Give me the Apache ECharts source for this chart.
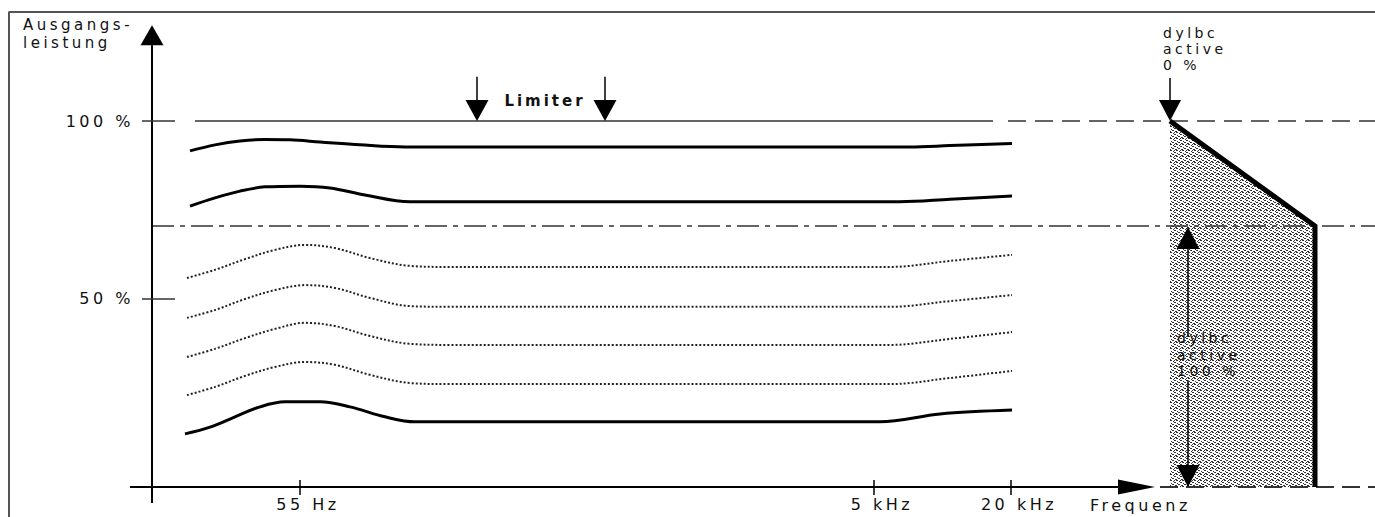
<!DOCTYPE html>
<html><head><meta charset="utf-8">
<script src="https://cdn.jsdelivr.net/npm/echarts@6/dist/echarts.min.js"></script>
<style>
html,body{margin:0;padding:0;background:#fff;}
#c{width:1375px;height:517px;}
#c text{letter-spacing:3.5px;}
#c text[style*="bold"]{letter-spacing:3px;}
</style></head><body><div id="c"></div>
<script>
// ---- axis ticks ----
const xTickValues = [148, 722, 859];
const xTickLabels = ['55 Hz', '5 kHz', '20 kHz'];
const yTickValues = [50, 100];
const yTickLabels = ['50 %', '100 %'];

// ---- levels (percent of output power) ----
const fullLevel = 100;
const dylbcLevel = 70.5;
const baseLevel = -2.81;

// ---- response curves [x, level %] ----
const curveTop    = [[38,91.6],[63,93.3],[88,94.4],[113,94.8],[138,94.7],[168,94.1],[208,93.3],[253,92.7],[758,92.7],[798,93.1],[860,93.7]];
const curveSecond = [[38,76.1],[63,78.4],[88,80.3],[113,81.5],[148,81.7],[178,81.2],[213,79.2],[258,77.3],[748,77.3],[798,78.0],[860,78.9]];
const curveDot1   = [[35,55.9],[63,58.2],[93,61.2],[123,63.8],[153,65.2],[183,64.3],[218,61.5],[258,59.3],[298,59.0],[738,59.0],[798,60.7],[860,62.4]];
const curveDot2   = [[35,44.7],[63,46.9],[93,50.0],[123,52.5],[153,53.9],[183,53.1],[218,50.3],[258,48.0],[298,47.8],[738,47.8],[798,49.4],[860,51.1]];
const curveDot3   = [[35,33.7],[63,36.0],[93,39.0],[123,41.6],[153,43.3],[183,42.4],[218,39.6],[258,37.4],[298,37.1],[738,37.1],[798,38.8],[860,40.7]];
const curveDot4   = [[35,23.0],[63,25.3],[93,28.4],[123,30.9],[153,32.3],[183,31.5],[218,28.7],[258,26.4],[298,26.1],[738,26.1],[798,27.8],[860,29.8]];
const curveBottom = [[33,12.1],[58,14.0],[83,16.9],[108,19.7],[133,21.1],[168,21.1],[198,19.7],[233,16.9],[263,15.5],[728,15.5],[788,17.7],[860,18.8]];

// ---- reference lines ----
const refLineSolid  = [[43, fullLevel], [841, fullLevel]];
const refLineDashed = [[856, fullLevel], [1223, fullLevel]];
const dylbcLine     = [[0, dylbcLevel], [1223, dylbcLevel]];
const baseDashed    = [[1008, baseLevel], [1223, baseLevel]];
const frameLine     = [[-143, -11.24], [-143, 130.6], [1223, 130.6]];

// ---- arrows [x1, y1, x2(tip), y2(tip)] ----
const xAxisArrow = [[-22, baseLevel, 1003, baseLevel]];
const yAxisArrow = [[0, -7.3, 0, 126.9]];
const limiterArrows = [[325, 112.4, 325, fullLevel], [453, 112.4, 453, fullLevel]];
const dylbcZeroArrow = [[1018, 112.1, 1018, fullLevel]];
const dylbcSpanArrows = [[1036, 39.3, 1036, 70.2], [1036, 27.2, 1036, baseLevel]];

// ---- dylbc region ----
const dylbcArea = [[1018, fullLevel], [1163, dylbcLevel], [1163, baseLevel], [1018, baseLevel]];
const dylbcEdge = [[1018, fullLevel], [1163, dylbcLevel], [1163, baseLevel]];

// ---- annotations ----
const noteTexts = ['Ausgangs-', 'leistung', 'Limiter', 'dylbc', 'active', '0 %', 'dylbc', 'active', '100 %', 'Frequenz'];
const notePos = [[-129,127.0],[-129,121.9],[393,105.6],[1011,124.8],[1011,120.2],[1011,115.7],[1025,39.0],[1025,34.4],[1025,29.8],[938,-7.9]];

// ================= build =================
const FONT = 'DejaVu Sans';
const chart = echarts.init(document.getElementById('c'), null, {renderer: 'svg'});

function lineSeries(data, style, extra) {
  return Object.assign({
    type: 'line', data, symbol: 'none', silent: true, animation: false,
    lineStyle: style, z: 3
  }, extra || {});
}

function arrowSeries(data, o) {
  return {
    type: 'custom', coordinateSystem: 'cartesian2d', silent: true, animation: false, clip: false, z: 5,
    data, encode: {x: [0, 2], y: [1, 3]},
    renderItem(params, api) {
      const p1 = api.coord([api.value(0), api.value(1)]);
      const p2 = api.coord([api.value(2), api.value(3)]);
      const dx = p2[0] - p1[0], dy = p2[1] - p1[1];
      const len = Math.hypot(dx, dy) || 1;
      const ux = dx / len, uy = dy / len;
      const L = o.headLen, W = o.headWidth / 2;
      const bx = p2[0] - ux * L, by = p2[1] - uy * L;
      return {type: 'group', children: [
        {type: 'line', shape: {x1: p1[0], y1: p1[1], x2: bx + ux, y2: by + uy}, style: {stroke: '#000', lineWidth: o.lineWidth}},
        {type: 'polygon', shape: {points: [[p2[0], p2[1]], [bx - uy * W, by + ux * W], [bx + uy * W, by - ux * W]]}, style: {fill: '#000'}}
      ]};
    }
  };
}

// stipple tile
const tile = document.createElement('canvas');
tile.width = 6; tile.height = 6;
(function () {
  const t = tile.getContext('2d');
  t.fillStyle = '#fff'; t.fillRect(0, 0, 6, 6);
  t.fillStyle = '#333';
  [[0,0],[1,0],[3,1],[4,2],[5,2],[1,3],[2,4],[3,4],[5,5],[0,5],[4,0]].forEach(p => t.fillRect(p[0], p[1], 1, 1));
})();

const noteStyle = [
  {align: 'left', size: 15, weight: 'normal'},
  {align: 'left', size: 15, weight: 'normal'},
  {align: 'center', size: 15, weight: 'bold'},
  {align: 'left', size: 14, weight: 'normal'},
  {align: 'left', size: 14, weight: 'normal'},
  {align: 'left', size: 14, weight: 'normal'},
  {align: 'left', size: 14, weight: 'normal'},
  {align: 'left', size: 14, weight: 'normal'},
  {align: 'left', size: 14, weight: 'normal'},
  {align: 'left', size: 16, weight: 'normal'}
];

const smoothOpt = {smooth: 0.35};

const option = {
  animation: false,
  backgroundColor: '#fff',
  grid: {left: 0, right: 0, top: 0, bottom: 0, containLabel: false, outerBoundsMode: 'none'},
  xAxis: {
    type: 'value', min: -152, max: 1223, position: 'bottom', offset: -30,
    axisLine: {show: false, onZero: false}, axisTick: {show: false}, splitLine: {show: false},
    axisLabel: {
      customValues: xTickValues, margin: 9, color: '#111', fontSize: 16, fontFamily: FONT,
      padding: [0, 0, 0, 16],
      formatter: v => xTickLabels[xTickValues.indexOf(v)]
    }
  },
  yAxis: {
    type: 'value', min: -11.24, max: 133.99, position: 'left', offset: -152,
    axisLine: {show: false, onZero: false}, axisTick: {show: false}, splitLine: {show: false},
    axisLabel: {
      customValues: yTickValues, margin: 18, color: '#111', fontSize: 16, fontFamily: FONT,
      formatter: v => yTickLabels[yTickValues.indexOf(v)]
    }
  },
  series: [
    {
      type: 'custom', coordinateSystem: 'cartesian2d', silent: true, animation: false, clip: false, z: 1,
      data: [0],
      renderItem(params, api) {
        return {type: 'polygon', shape: {points: dylbcArea.map(p => api.coord(p))},
          style: {fill: {type: 'pattern', image: tile, repeat: 'repeat'}}};
      }
    },
    lineSeries(frameLine, {color: '#555', width: 2}),
    lineSeries(refLineSolid, {color: '#333', width: 1.5}),
    lineSeries(refLineDashed, {color: '#333', width: 1.5, type: [18, 9]}),
    lineSeries(dylbcLine, {color: '#333', width: 1.5, type: [22, 6, 5, 6]}),
    lineSeries(baseDashed, {color: '#333', width: 2, type: [18, 8]}),
    lineSeries(dylbcEdge, {color: '#000', width: 5, join: 'miter'}),
    lineSeries(curveTop, {color: '#000', width: 3}, smoothOpt),
    lineSeries(curveSecond, {color: '#000', width: 3}, smoothOpt),
    lineSeries(curveDot1, {color: '#222', width: 2, type: [2, 2]}, smoothOpt),
    lineSeries(curveDot2, {color: '#222', width: 2, type: [2, 2]}, smoothOpt),
    lineSeries(curveDot3, {color: '#222', width: 2, type: [2, 2]}, smoothOpt),
    lineSeries(curveDot4, {color: '#222', width: 2, type: [2, 2]}, smoothOpt),
    lineSeries(curveBottom, {color: '#000', width: 3}, smoothOpt),
    arrowSeries(xAxisArrow, {headLen: 37, headWidth: 15, lineWidth: 2}),
    arrowSeries(yAxisArrow, {headLen: 20, headWidth: 23, lineWidth: 2}),
    arrowSeries(limiterArrows, {headLen: 21, headWidth: 23, lineWidth: 1.5}),
    arrowSeries(dylbcZeroArrow, {headLen: 21, headWidth: 22, lineWidth: 1.5}),
    arrowSeries(dylbcSpanArrows, {headLen: 22, headWidth: 23, lineWidth: 1.5}),
    {
      type: 'custom', coordinateSystem: 'cartesian2d', silent: true, animation: false, clip: false, z: 5,
      data: xTickValues.map(v => [v, baseLevel]),
      renderItem(params, api) {
        const p = api.coord([api.value(0), api.value(1)]);
        return {type: 'line', shape: {x1: p[0], y1: p[1] - 7, x2: p[0], y2: p[1] + 8}, style: {stroke: '#000', lineWidth: 1.5}};
      }
    },
    {
      type: 'custom', coordinateSystem: 'cartesian2d', silent: true, animation: false, clip: false, z: 5,
      data: yTickValues.map(v => [0, v]),
      renderItem(params, api) {
        const p = api.coord([api.value(0), api.value(1)]);
        return {type: 'line', shape: {x1: p[0] - 10, y1: p[1], x2: p[0] + 23, y2: p[1]}, style: {stroke: '#333', lineWidth: 1.5}};
      }
    },
    {
      type: 'custom', coordinateSystem: 'cartesian2d', silent: true, animation: false, clip: false, z: 6,
      data: notePos,
      renderItem(params, api) {
        const i = params.dataIndex;
        const p = api.coord([api.value(0), api.value(1)]);
        const s = noteStyle[i];
        return {type: 'text', x: p[0], y: p[1], style: {
          text: noteTexts[i], fill: '#111', fontSize: s.size, fontFamily: FONT, fontWeight: s.weight,
          align: s.align, verticalAlign: 'middle'
        }};
      }
    }
  ]
};
chart.setOption(option);
</script></body></html>
